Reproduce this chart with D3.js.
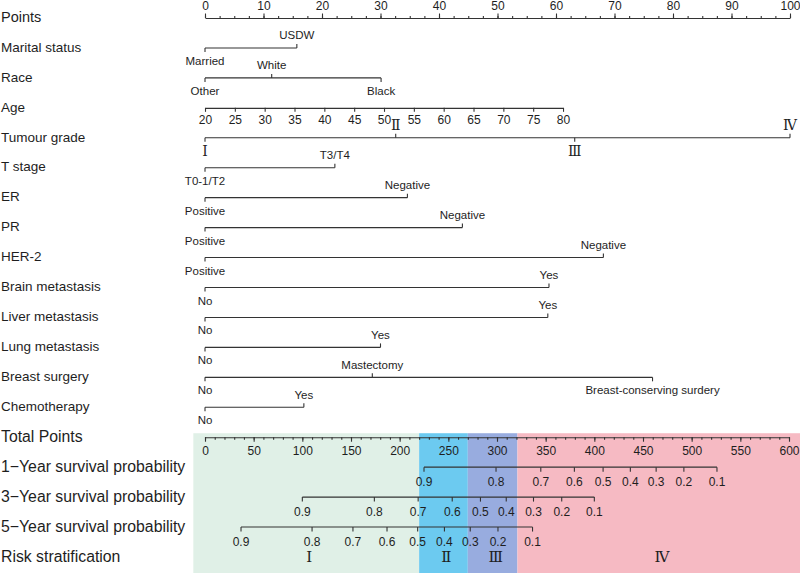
<!DOCTYPE html>
<html>
<head>
<meta charset="utf-8">
<script src="https://cdn.jsdelivr.net/npm/d3@7"></script>
<style>
  body { margin: 0; background: #fff; }
  text { font-family: "Liberation Sans", Arial, sans-serif; fill: #1e1e1e; }
  .roman { font-family: "Liberation Serif", "DejaVu Serif", serif; }
</style>
</head>
<body>
<svg id="chart" width="800" height="573"></svg>
<script>
// row names, top to bottom
const rowNames = ["Points", "Marital status", "Race", "Age", "Tumour grade", "T stage", "ER", "PR", "HER-2",
  "Brain metastasis", "Liver metastasis", "Lung metastasis", "Breast surgery", "Chemotherapy",
  "Total Points", "1\u2212Year survival probability", "3\u2212Year survival probability",
  "5\u2212Year survival probability", "Risk stratification"];

// categorical predictors: levels and their points (0-100 scale)
const maritalLevels = ["Married", "USDW"];
const maritalPoints = [0, 15.7];
const raceLevels = ["Other", "White", "Black"];
const racePoints = [0, 11.4, 30.1];
const gradeLevels = ["\u2160", "\u2161", "\u2162", "\u2163"];
const gradePoints = [0, 32.6, 63.2, 100];
const tStageLevels = ["T0-1/T2", "T3/T4"];
const tStagePoints = [0, 22.2];
const erLevels = ["Positive", "Negative"];
const erPoints = [0, 34.6];
const prLevels = ["Positive", "Negative"];
const prPoints = [0, 44.0];
const her2Levels = ["Positive", "Negative"];
const her2Points = [0, 68.1];
const brainLevels = ["No", "Yes"];
const brainPoints = [0, 58.8];
const liverLevels = ["No", "Yes"];
const liverPoints = [0, 58.6];
const lungLevels = ["No", "Yes"];
const lungPoints = [0, 30.0];
const surgeryLevels = ["No", "Mastectomy", "Breast-conserving surdery"];
const surgeryPoints = [0, 28.6, 76.5];
const chemoLevels = ["No", "Yes"];
const chemoPoints = [0, 16.9];

// age axis
const ageTicks = [20, 25, 30, 35, 40, 45, 50, 55, 60, 65, 70, 75, 80];
const ageDomain = [20, 80];
const agePointsRange = [0, 61.2];

// survival probability axes (labels and total points where they sit)
const probLabels = ["0.9", "0.8", "0.7", "0.6", "0.5", "0.4", "0.3", "0.2", "0.1"];
const surv1Total = [225, 299, 345, 379.5, 409, 437, 463.5, 492, 526];
const surv3Total = [100, 174, 219, 254, 283, 309.5, 337.5, 366.5, 400];
const surv5Total = [37, 110, 152, 187, 218.5, 246, 272.5, 301, 336.5];

// risk groups, edges in total points
const riskLabels = ["\u2160", "\u2161", "\u2162", "\u2163"];
const riskEdges = [-12, 220, 270, 321, 612];
const riskColors = ["#e0f0e7", "#6ccaf0", "#98acdf", "#f6bac3"];

const svg = d3.select("#chart");
const W = 800, H = 573;
const ink = "#333";

const rowY = d3.scaleLinear().domain([0, rowNames.length - 1]).range([17, 556]);
const xPts = d3.scaleLinear().domain([0, 100]).range([205, 790]);
const xTot = d3.scaleLinear().domain([0, 600]).range([205, 789]);
const lineY = i => rowY(i) + 1;

// background bands for risk stratification
const bandTop = rowY(14) - 3;
const bands = riskColors.map((c, i) => ({ c, a: riskEdges[i], b: riskEdges[i + 1], label: riskLabels[i] }));
svg.append("g").selectAll("rect").data(bands).join("rect")
  .attr("x", d => xTot(d.a))
  .attr("width", d => xTot(d.b) - xTot(d.a))
  .attr("y", bandTop)
  .attr("height", H - bandTop)
  .attr("fill", d => d.c);

// row labels (the lower block is set a little larger, as in the original)
svg.append("g").selectAll("text").data(rowNames).join("text")
  .attr("x", 1)
  .attr("y", (d, i) => rowY(i))
  .attr("dy", "0.35em")
  .style("font-size", (d, i) => (i === 0 ? "14.5px" : i >= 14 ? "15.8px" : "13.5px"))
  .text(d => d);

function styleAxis(g, size) {
  g.attr("font-size", null).attr("font-family", null);
  g.selectAll("path, line").attr("stroke", ink).attr("stroke-width", 1.1);
  g.selectAll("text").style("font-size", size || "11.5px").attr("fill", "#1e1e1e");
}

// Points axis (labels above)
const gPts = svg.append("g").attr("transform", `translate(0,${lineY(0)})`);
gPts.append("g").call(d3.axisTop(xPts).tickValues(d3.range(0, 100.1, 2.5)).tickSize(2).tickFormat(""))
  .call(g => g.select(".domain").remove()).call(styleAxis);
gPts.append("g").call(d3.axisTop(xPts).tickValues(d3.range(0, 101, 10)).tickSize(4.5).tickSizeOuter(0).tickPadding(4))
  .call(styleAxis, "12px");

// bracket with ticks pointing toward their labels
function drawLevels(row, xs, labels, roman) {
  const y = lineY(row);
  const side = labels.map((d, i) => (i % 2 === 0 ? 1 : -1)); // first below, then alternate
  const g = svg.append("g");
  g.append("line")
    .attr("x1", d3.min(xs)).attr("x2", d3.max(xs))
    .attr("y1", y).attr("y2", y)
    .attr("stroke", ink).attr("stroke-width", 1.1);
  g.selectAll("line.tk").data(xs).join("line").attr("class", "tk")
    .attr("x1", d => d).attr("x2", d => d)
    .attr("y1", y).attr("y2", (d, i) => y + side[i] * 4)
    .attr("stroke", ink).attr("stroke-width", 1.1);
  g.selectAll("text").data(labels).join("text")
    .attr("class", roman ? "roman" : null)
    .attr("x", (d, i) => xs[i])
    .attr("y", (d, i) => (side[i] > 0 ? y + 13 : y - 12.5))
    .attr("dy", "0.35em")
    .attr("text-anchor", "middle")
    .style("font-size", roman ? "14px" : "11.5px")
    .text(d => d);
}

drawLevels(1, maritalPoints.map(xPts), maritalLevels);
drawLevels(2, racePoints.map(xPts), raceLevels);

// Age axis (labels below)
const ageScale = d3.scaleLinear().domain(ageDomain).range(agePointsRange.map(xPts));
svg.append("g").attr("transform", `translate(0,${lineY(3)})`)
  .call(d3.axisBottom(ageScale).tickValues(ageTicks).tickSize(4).tickSizeOuter(0).tickPadding(4))
  .call(styleAxis, "12px");

drawLevels(4, gradePoints.map(xPts), gradeLevels, true);
drawLevels(5, tStagePoints.map(xPts), tStageLevels);
drawLevels(6, erPoints.map(xPts), erLevels);
drawLevels(7, prPoints.map(xPts), prLevels);
drawLevels(8, her2Points.map(xPts), her2Levels);
drawLevels(9, brainPoints.map(xPts), brainLevels);
drawLevels(10, liverPoints.map(xPts), liverLevels);
drawLevels(11, lungPoints.map(xPts), lungLevels);
drawLevels(12, surgeryPoints.map(xPts), surgeryLevels);
drawLevels(13, chemoPoints.map(xPts), chemoLevels);

// Total points axis
const gTot = svg.append("g").attr("transform", `translate(0,${lineY(14)})`);
gTot.append("g").call(d3.axisBottom(xTot).tickValues(d3.range(0, 601, 10)).tickSize(2.5).tickFormat(""))
  .call(g => g.select(".domain").remove()).call(styleAxis);
gTot.append("g").call(d3.axisBottom(xTot).tickValues(d3.range(0, 601, 50)).tickSize(4.5).tickSizeOuter(0).tickPadding(5))
  .call(styleAxis, "12px");

// survival probability axes, all labels below
function drawProb(row, totals, labels) {
  const y = lineY(row);
  const g = svg.append("g");
  const xs = totals.map(xTot);
  g.append("line")
    .attr("x1", d3.min(xs)).attr("x2", d3.max(xs))
    .attr("y1", y).attr("y2", y)
    .attr("stroke", ink).attr("stroke-width", 1.1);
  g.selectAll("line.tk").data(xs).join("line").attr("class", "tk")
    .attr("x1", d => d).attr("x2", d => d)
    .attr("y1", y).attr("y2", y + 4.5)
    .attr("stroke", ink).attr("stroke-width", 1.1);
  g.selectAll("text").data(labels).join("text")
    .attr("x", (d, i) => xs[i])
    .attr("y", y + 14.5)
    .attr("dy", "0.35em")
    .attr("text-anchor", "middle")
    .style("font-size", "12px")
    .text(d => d);
}
drawProb(15, surv1Total, probLabels);
drawProb(16, surv3Total, probLabels);
drawProb(17, surv5Total, probLabels);

// risk group numerals in the middle of each band
svg.append("g").selectAll("text").data(bands).join("text")
  .attr("class", "roman")
  .attr("x", d => xTot((d.a + d.b) / 2) + 3)
  .attr("y", rowY(18) + 1)
  .attr("dy", "0.35em")
  .attr("text-anchor", "middle")
  .style("font-size", "15px")
  .text(d => d.label);
</script>
</body>
</html>
